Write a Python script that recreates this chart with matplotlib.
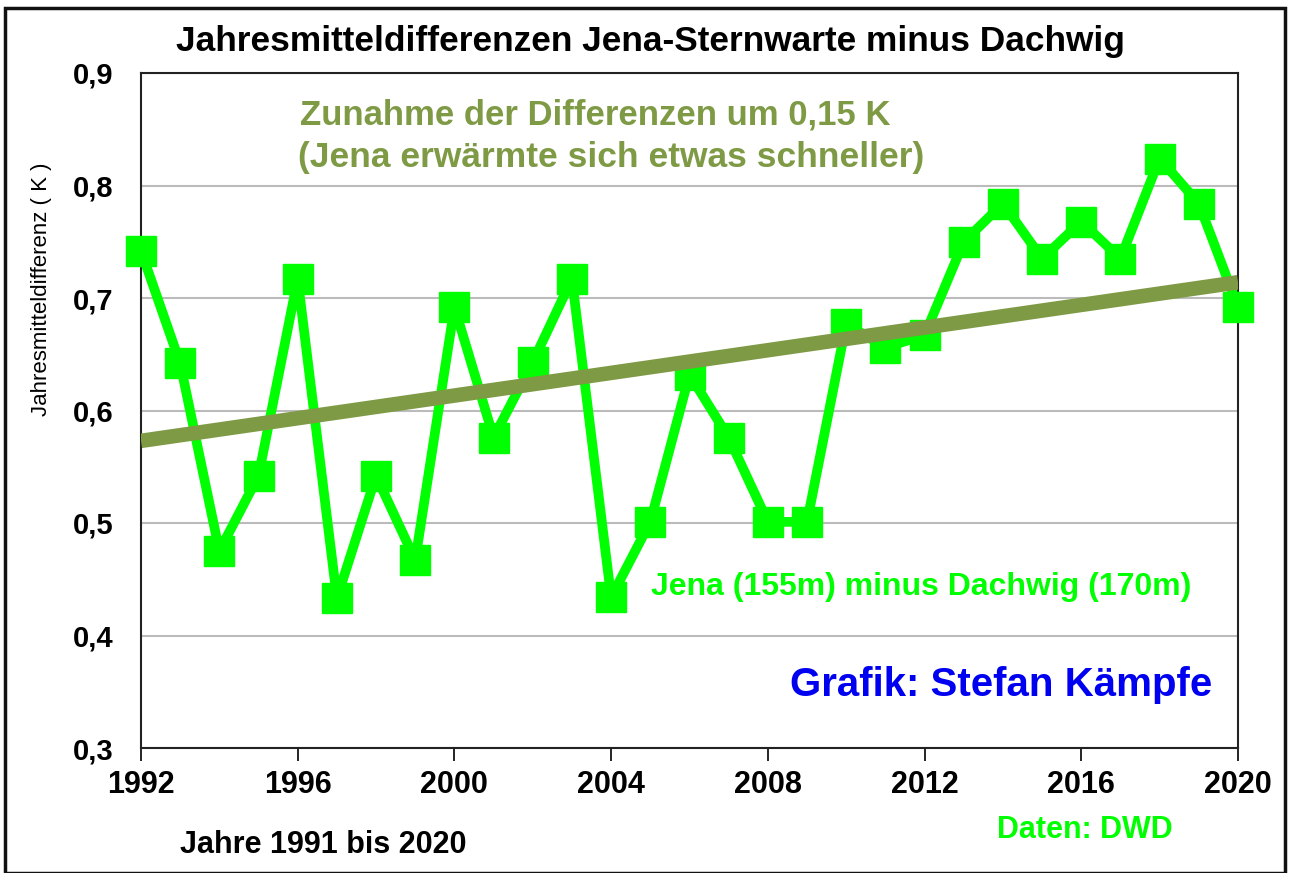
import matplotlib
matplotlib.use("Agg")
import matplotlib.pyplot as plt
from matplotlib.patches import Rectangle

years = list(range(1992, 2021))
diffs = [0.742, 0.642, 0.475, 0.542, 0.717, 0.433, 0.542, 0.467, 0.692, 0.576,
         0.643, 0.717, 0.434, 0.501, 0.632, 0.576, 0.501, 0.501, 0.677, 0.656,
         0.667, 0.750, 0.784, 0.735, 0.768, 0.735, 0.824, 0.784, 0.692]
trend_years = [1992, 2020]
trend_vals = [0.573, 0.714]
xticks = [1992, 1996, 2000, 2004, 2008, 2012, 2016, 2020]
yticks = [0.3, 0.4, 0.5, 0.6, 0.7, 0.8, 0.9]
ytick_labels = ["0,3", "0,4", "0,5", "0,6", "0,7", "0,8", "0,9"]

GREEN = "#00FF00"
OLIVE = "#7F9A45"
BLUE = "#0000F0"
ARIAL = ["Liberation Sans", "DejaVu Sans"]

W, H = 1291, 873
fig = plt.figure(figsize=(W / 100, H / 100), dpi=100)
ax = fig.add_axes([141 / W, 1 - 748 / H, (1238 - 141) / W, (748 - 73) / H])

ax.plot(years, diffs, color=GREEN, lw=7, marker="s", ms=21, mfc=GREEN, mec=GREEN,
        zorder=3, solid_joinstyle="round", clip_on=False)
ax.plot(trend_years, trend_vals, color=OLIVE, lw=10.5, zorder=4, solid_capstyle="butt")

ax.set_xlim(1992, 2020)
ax.set_ylim(0.3, 0.9)
ax.set_xticks(xticks)
ax.set_xticklabels([str(x) for x in xticks], family=ARIAL, fontweight="bold", fontsize=22)
ax.set_yticks(yticks)
ax.set_yticklabels(ytick_labels, family=ARIAL, fontweight="bold", fontsize=21)
ax.tick_params(axis="x", direction="out", length=9, width=1.2, pad=7, color="black")
ax.tick_params(axis="y", length=0, pad=20)
ax.grid(axis="y", color="#BBBBBB", lw=1.5)
ax.set_axisbelow(True)
for s in ax.spines.values():
    s.set_color("#222222")
    s.set_linewidth(1.5)

fig.text(650 / W, 1 - 42 / H, "Jahresmitteldifferenzen Jena-Sternwarte minus Dachwig",
         ha="center", va="center", family=ARIAL, fontweight="bold", fontsize=25.4)
fig.text(42 / W, 1 - 289 / H, "Jahresmitteldifferenz ( K )", rotation=90,
         ha="center", va="center", family=ARIAL, fontsize=16)
fig.text(300 / W, 1 - 115 / H, "Zunahme der Differenzen um 0,15 K",
         ha="left", va="center", family=ARIAL, fontweight="bold", fontsize=25, color=OLIVE)
fig.text(298 / W, 1 - 158 / H, "(Jena erwärmte sich etwas schneller)",
         ha="left", va="center", family=ARIAL, fontweight="bold", fontsize=25.5, color=OLIVE)
fig.text(651 / W, 1 - 587 / H, "Jena (155m) minus Dachwig (170m)",
         ha="left", va="center", family=ARIAL, fontweight="bold", fontsize=23, color=GREEN)
fig.text(790 / W, 1 - 685 / H, "Grafik: Stefan Kämpfe",
         ha="left", va="center", family=ARIAL, fontweight="bold", fontsize=29, color=BLUE)
fig.text(180 / W, 1 - 845 / H, "Jahre 1991 bis 2020",
         ha="left", va="center", family=ARIAL, fontweight="bold", fontsize=22)
fig.text(997 / W, 1 - 830 / H, "Daten: DWD",
         ha="left", va="center", family=ARIAL, fontweight="bold", fontsize=22, color=GREEN)

fig.patches.append(Rectangle((5 / W, 0), (1285 - 5) / W, 1 - 8 / H, transform=fig.transFigure,
                             fill=False, edgecolor="#111111", lw=2.5))

fig.savefig("out.png", dpi=100)
